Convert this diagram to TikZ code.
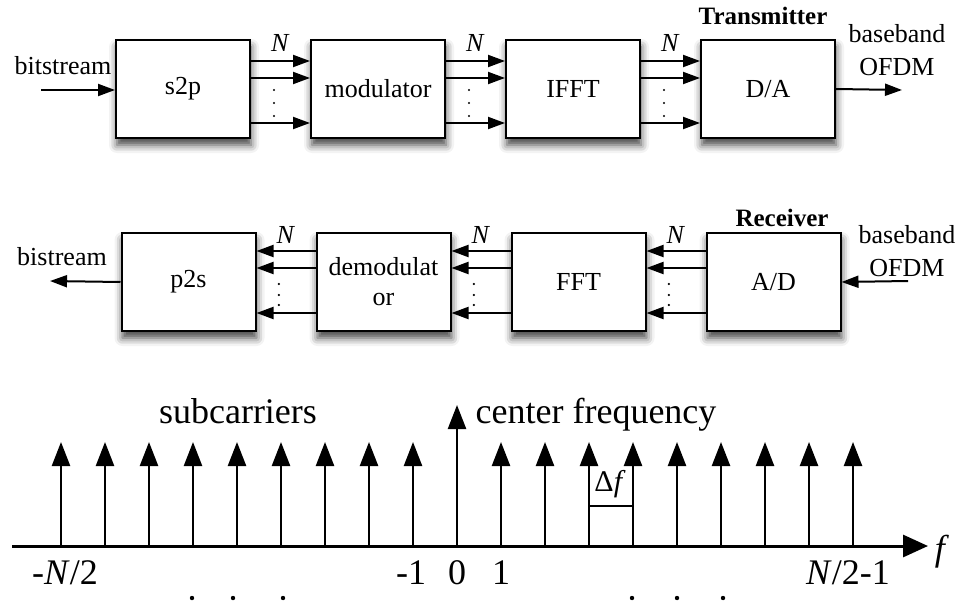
\documentclass[tikz,border=0pt]{standalone}
\usepackage{fontspec}
\setmainfont{Liberation Serif}
\usetikzlibrary{arrows.meta, positioning, calc, shadows.blur}

\begin{document}
\begin{tikzpicture}[
  x=0.5pt, y=-0.5pt,
  font=\fontsize{13}{15}\selectfont, node distance=29.5pt,
  blk/.style={draw, line width=1pt, fill=white, minimum width=67pt, minimum height=49pt,
              align=center, inner sep=2pt,
              blur shadow={shadow xshift=0.5pt, shadow yshift=-3.5pt, shadow blur radius=4pt,
                           shadow opacity=75}},
  ar/.style={-{Triangle[length=8.5pt,width=6pt]}, line width=1pt},
  sc/.style={-{Triangle[length=12pt,width=9pt]}, line width=1.2pt},
  big/.style={font=\fontsize{18}{21}\selectfont, anchor=base},
  ttl/.style={font=\fontsize{12.5}{15}\selectfont\bfseries},
]
\useasboundingbox (0,0) rectangle (961,604);

% transmitter
\node[blk] (s2p) at (183,89) {s2p};
\node[blk, right=of s2p] (mod) {modulator};
\node[blk, right=of mod] (ifft) {IFFT};
\node[blk, right=of ifft] (da) {D/A};

\foreach \a/\b/\i in {s2p/mod/1, mod/ifft/2, ifft/da/3}{
  \foreach \dy in {14pt,5.5pt,-17pt}
    \draw[ar] ([yshift=\dy]\a.east) -- ([yshift=\dy]\b.west);
  \foreach \dy in {-0.5pt,-7pt,-13.5pt}
    \fill ($(\a.east)!0.39!(\b.west)+(0pt,\dy)$) circle (0.6pt);
  \node (nt\i) at ($(\a.east)!0.5!(\b.west)+(0pt,23pt)$) {\textit{N}};
}

\coordinate (txin) at (41,90);
\coordinate (txout) at (902,90);
\draw[ar] (txin) -- (txin -| s2p.west);
\draw[ar] (da.east) -- (txout);
\node (bits) at (63,66) {bitstream};
\node[align=center, font=\fontsize{13}{16.5}\selectfont] (bbt) at (897,50) {baseband\\OFDM};
\node[ttl] (tx) at (763,16) {Transmitter};

% receiver
\node[blk] (p2s) at (188.5,282) {p2s};
\node[blk, right=of p2s] (dem) {demodulat\\or};
\node[blk, right=of dem] (fft) {FFT};
\node[blk, right=of fft] (ad) {A/D};

\foreach \a/\b/\i in {p2s/dem/1, dem/fft/2, fft/ad/3}{
  \foreach \dy in {15.5pt,7pt,-15.5pt}
    \draw[ar] ([yshift=\dy]\b.west) -- ([yshift=\dy]\a.east);
  \foreach \dy in {-1pt,-6.5pt,-11.5pt}
    \fill ($(\a.east)!0.38!(\b.west)+(0pt,\dy)$) circle (0.6pt);
  \node (nr\i) at ($(\a.east)!0.5!(\b.west)+(0pt,23.5pt)$) {\textit{N}};
}

\coordinate (rxout) at (50,281);
\coordinate (rxin) at (908,281);
\draw[ar] (p2s.west) -- (rxout);
\draw[ar] (rxin) -- (ad.east);
\node (bist) at (62,257) {bistream};
\node[align=center, font=\fontsize{13}{16.5}\selectfont] (bbr) at (907,251) {baseband\\OFDM};
\node[ttl] (rx) at (782,218) {Receiver};

% spectrum
\coordinate (f0) at (12,546);
\coordinate (f1) at (928,546);
\draw[-{Triangle[length=12.5pt,width=11pt]}, line width=1.5pt] (f0) -- (f1);
\foreach \k in {-9,...,-1,1,2,...,9}
  \draw[sc] (457+44*\k,546) -- (457+44*\k,442);
\draw[sc] (457,546) -- (457,405);
\draw[line width=1pt] (589,506) -- (633,506);
\node[font=\fontsize{15}{17}\selectfont] (df) at (610,484) {Δ\textit{f}};

\node[big] (sub) at (238,423) {subcarriers};
\node[big] (cf) at (596,423) {center frequency};
\node[big] (fl) at (942,560) {\textit{f}};

\node[big] (lm) at (65,584) {-\textit{N}/2};
\node[big] (l1) at (411,584) {-1};
\node[big] (l0) at (457,584) {0};
\node[big] (r1) at (501,584) {1};
\node[big] (lp) at (848,584) {\textit{N}/2-1};
\foreach \x in {192,233,283,632,677,723}
  \fill (\x,598) circle (1.1pt);
\end{tikzpicture}
\end{document}
